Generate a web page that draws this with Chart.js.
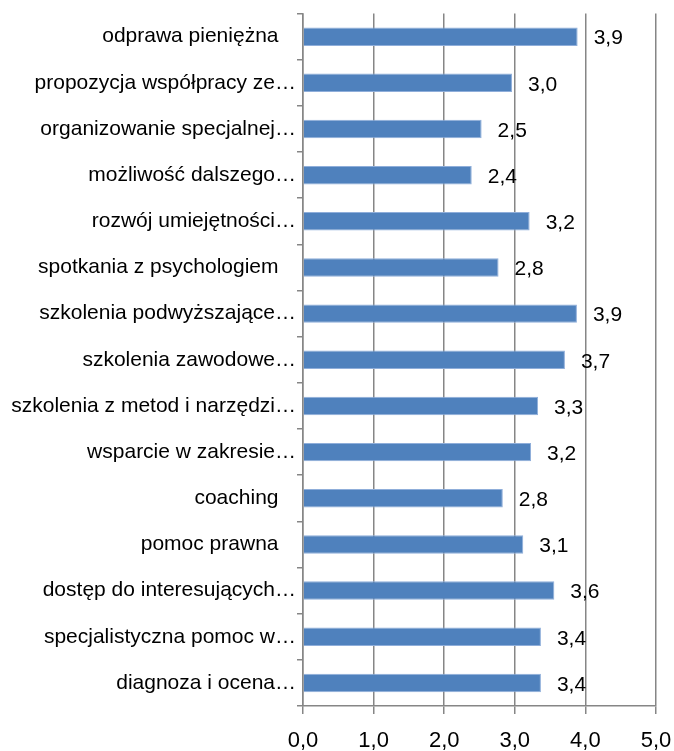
<!DOCTYPE html>
<html>
<head>
<meta charset="utf-8">
<script src="https://cdn.jsdelivr.net/npm/chart.js@4"></script>
<style>
  body { margin: 0; background: #fff; }
</style>
</head>
<body>
<canvas id="barChart" width="674" height="751"></canvas>
<script>
const categories = [
    'odprawa pieniężna   ',
    'propozycja współpracy ze…',
    'organizowanie specjalnej…',
    'możliwość dalszego…',
    'rozwój umiejętności…',
    'spotkania z psychologiem   ',
    'szkolenia podwyższające…',
    'szkolenia zawodowe…',
    'szkolenia z metod i narzędzi…',
    'wsparcie w zakresie…',
    'coaching   ',
    'pomoc prawna   ',
    'dostęp do interesujących…',
    'specjalistyczna pomoc w…',
    'diagnoza i ocena…'
];
const values = [3.89, 2.96, 2.53, 2.39, 3.21, 2.77, 3.88, 3.71, 3.33, 3.23, 2.83, 3.12, 3.56, 3.37, 3.37];
const xTicks = [0, 1, 2, 3, 4, 5];

const fmt = v => v.toFixed(1).replace('.', ',');
const gridColor = '#868686';
const fontFamily = '"Liberation Sans", Arial, sans-serif';

// value labels to the right of each bar
const valueLabels = {
    id: 'valueLabels',
    afterDatasetsDraw(chart) {
        const ctx = chart.ctx;
        ctx.save();
        ctx.font = '21px ' + fontFamily;
        ctx.fillStyle = '#000';
        ctx.textAlign = 'left';
        ctx.textBaseline = 'middle';
        chart.getDatasetMeta(0).data.forEach((bar, i) => {
            ctx.fillText(fmt(values[i]), bar.x + 16, bar.y + 2);
        });
        ctx.restore();
    }
};

const ctx1 = document.getElementById('barChart').getContext('2d');
new Chart(ctx1, {
    type: 'bar',
    data: {
        labels: categories,
        datasets: [{
            data: values,
            backgroundColor: '#4F81BD',
            borderColor: '#8FAEDA',
            borderWidth: 1,
            barPercentage: 0.4,
            categoryPercentage: 1.0
        }]
    },
    options: {
        indexAxis: 'y',
        responsive: false,
        animation: false,
        devicePixelRatio: 1,
        layout: { padding: { top: 12, right: 18, left: 0, bottom: 0 } },
        plugins: {
            legend: { display: false },
            tooltip: { enabled: false }
        },
        scales: {
            x: {
                min: 0,
                max: 5,
                afterBuildTicks: scale => { scale.ticks = xTicks.map(v => ({ value: v })); },
                afterFit: scale => {
                    scale.height = 45;
                    scale.paddingRight = 0;
                    scale.paddingLeft = 0;
                },
                grid: { color: gridColor, lineWidth: 1.5, tickLength: 8 },
                border: { color: gridColor, width: 1.5 },
                ticks: {
                    color: '#000',
                    padding: 14,
                    font: { family: fontFamily, size: 22 },
                    callback: v => fmt(v)
                }
            },
            y: {
                afterFit: scale => { scale.width = 303; },
                grid: { drawOnChartArea: false, color: gridColor, lineWidth: 1.5, tickLength: 6 },
                border: { color: gridColor, width: 1.5 },
                ticks: {
                    color: '#000',
                    padding: 1,
                    autoSkip: false,
                    font: { family: fontFamily, size: 21 }
                }
            }
        }
    },
    plugins: [valueLabels]
});
</script>
</body>
</html>
